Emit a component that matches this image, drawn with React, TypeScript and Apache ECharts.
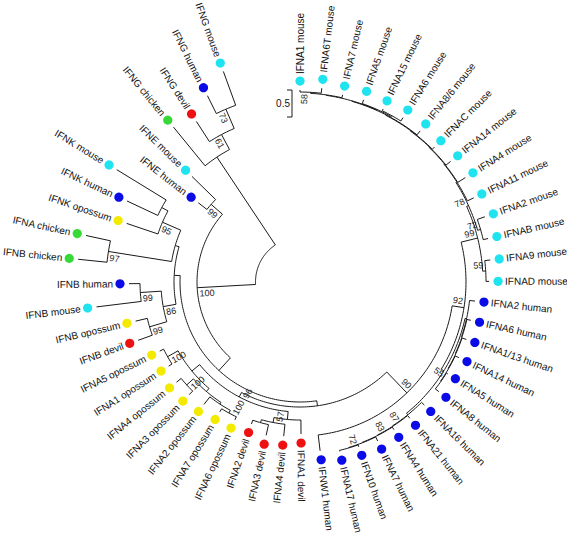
import React, { useEffect, useRef } from "react";
import * as echarts from "echarts";

// ---------------- data ----------------
// branch lengths in substitutions / site (scale bar = 0.5)
const rootEdge = 0.824;
const tipStartAngle = 270; // first tip (IFNA1 mouse) at the top
const tipSweepAngle = 340; // tips are spread clockwise over this sweep
const scaleBarValue = 0.5;
const scaleBarLabel = "0.5";

const speciesNames = ["mouse", "human", "devil", "opossum", "chicken"];
const speciesColors = ["#1FE3EF", "#0B0BE8", "#EE1111", "#F3EA00", "#36D936"];

// mouse IFNA clade
const mouseTop =
  "(((IFNA1 mouse:0.037,IFNA6T mouse:0.093)58:0.019,IFNA7 mouse:0.056):0.009,(IFNA5 mouse:0.074,(IFNA15 mouse:0.037,IFNA6 mouse:0.074):0.019):0.009):0.009";
const mouseComb1 = `((((((${mouseTop},IFNA8/6 mouse:0.093):0.009,IFNAC mouse:0.056):0.009,IFNA14 mouse:0.111):0.009,IFNA4 mouse:0.167):0.009,IFNA11 mouse:0.130):0.019`;
const mouseClade = `((${mouseComb1},(IFNA2 mouse:0.148,IFNAB mouse:0.093)72:0.056)78:0.037,(IFNA9 mouse:0.102,IFNAD mouse:0.056)59:0.056)99:0.315`;

// human IFNA clade
const humanA =
  "(IFNA2 human:0.102,(IFNA6 human:0.074,(IFNA1/13 human:0.083,(IFNA14 human:0.074,(IFNA5 human:0.028,IFNA8 human:0.083)55:0.009):0.009):0.009):0.009):0.028";
const humanB =
  "(IFNA16 human:0.074,(IFNA21 human:0.065,(IFNA4 human:0.056,(IFNA7 human:0.083,(IFN10 human:0.037,IFNA17 human:0.019)72:0.009):0.009)83:0.009)87:0.009):0.037";
const humanClade = `(${humanA},${humanB}):0.056`;
const omegaAlpha = `((${mouseClade},${humanClade})92:0.222,IFNW1 human:0.296)90:0.537`;

// marsupial IFNA clades
const devilClade =
  "(IFNA1 devil:0.259,(IFNA4 devil:0.222,(IFNA3 devil:0.204,IFNA2 devil:0.074):0.056)57:0.093):0.148";
const opossumClade =
  "((((IFNA6 opossum:0.065,IFNA7 opossum:0.065)100:0.056,IFNA2 opossum:0.176):0.037,(IFNA3 opossum:0.093,IFNA4 opossum:0.111)100:0.167):0.074,(IFNA1 opossum:0.074,IFNA5 opossum:0.080)100:0.222):0.185";
const marsupialClade = `(${devilClade},${opossumClade})96:0.093`;
const alphaClade = `(${omegaAlpha},${marsupialClade}):0.093`;

// IFNB, chicken, IFNK, IFNE, IFNG
const betaClade =
  "((IFNB devil:0.278,IFNB opossum:0.222)99:0.333,(IFNB mouse:0.833,IFNB human:0.204)99:0.389)86:0.241";
const chickenKappa =
  "((IFNB chicken:0.537,IFNA chicken:0.463)97:1.185,(IFNK opossum:0.611,(IFNK human:0.630,IFNK mouse:1.074):0.130)95:0.370):0.074";
const typeIClade = `(${alphaClade},(${betaClade},${chickenKappa}):0.111):0.315`;
const epsilonClade = "(IFNE human:0.204,IFNE mouse:0.611)99:0.278";
const gammaClade =
  "(IFNG chicken:0.926,(IFNG devil:0.444,(IFNG human:0.370,IFNG mouse:0.667)73:0.389)61:0.315):1.954";
const newick = `((${typeIClade},${epsilonClade})100:1.083,${gammaClade});`;

// ---------------- tree helpers ----------------
type TNode = {
  name: string;
  len: number;
  children: TNode[];
  parent: TNode | null;
  r: number;
  a: number;
};

function parseNewick(s: string): TNode {
  let i = 0;
  const node = (): TNode => {
    const n: TNode = { name: "", len: 0, children: [], parent: null, r: 0, a: 0 };
    if (s[i] === "(") {
      i++;
      n.children.push(node());
      while (s[i] === ",") {
        i++;
        n.children.push(node());
      }
      i++; // ')'
    }
    let name = "";
    while (i < s.length && !"(),:;".includes(s[i])) name += s[i++];
    n.name = name.trim();
    if (s[i] === ":") {
      i++;
      let num = "";
      while (i < s.length && !"(),;".includes(s[i])) num += s[i++];
      n.len = parseFloat(num);
    }
    return n;
  };
  return node();
}

function buildTree() {
  const root = parseNewick(newick);
  const nodes: TNode[] = [];
  const tips: TNode[] = [];
  const walk = (n: TNode, parent: TNode | null, r: number) => {
    n.parent = parent;
    n.r = r;
    nodes.push(n);
    n.children.forEach((c) => walk(c, n, r + c.len));
    if (!n.children.length) tips.push(n);
  };
  walk(root, null, rootEdge);
  const step = tipSweepAngle / (tips.length - 1);
  tips.forEach((t, k) => (t.a = tipStartAngle + k * step));
  const ang = (n: TNode) => {
    if (n.children.length) {
      n.children.forEach(ang);
      n.a = n.children.reduce((s, c) => s + c.a, 0) / n.children.length;
    }
  };
  ang(root);
  return nodes;
}

const FONT = "'Liberation Sans', Arial, Helvetica, sans-serif";

export default function App() {
  const ref = useRef<HTMLDivElement>(null);
  useEffect(() => {
    if (!ref.current) return;
    const chart = echarts.init(ref.current, null, { renderer: "svg" });
    const nodes = buildTree();
    const data = nodes.map((n, k) => [n.r, ((n.a % 360) + 360) % 360, k]);
    const lineStyle = { stroke: "#1a1a1a", lineWidth: 1, fill: "none" };

    const renderNode = (_params: any, api: any) => {
      const n = nodes[api.value(2) as number];
      const c = api.coord([0, 0]);
      const pt = (r: number, a: number) => api.coord([r, a]);
      const els: any[] = [];
      if (n.parent) {
        const p0 = pt(n.parent.r, n.a);
        const p1 = pt(n.r, n.a);
        els.push({
          type: "line",
          shape: { x1: p0[0], y1: p0[1], x2: p1[0], y2: p1[1] },
          style: lineStyle,
        });
      }
      if (n.children.length) {
        const a0 = n.children[0].a;
        const a1 = n.children[n.children.length - 1].a;
        const steps = Math.max(2, Math.ceil(Math.abs(a1 - a0)));
        const pts: number[][] = [];
        for (let k = 0; k <= steps; k++) pts.push(pt(n.r, a0 + ((a1 - a0) * k) / steps));
        els.push({ type: "polyline", shape: { points: pts }, style: lineStyle });
      }
      const p = pt(n.r, n.a);
      const dx = p[0] - c[0];
      const dy = p[1] - c[1];
      const len = Math.hypot(dx, dy) || 1;
      const ux = dx / len;
      const uy = dy / len;
      const ang = Math.atan2(uy, ux);
      const left = ux < -1e-6;
      const rot = left ? Math.PI - ang : -ang;
      if (!n.children.length) {
        const sp = n.name.split(" ").pop() as string;
        const col = speciesColors[speciesNames.indexOf(sp)];
        const dotGap = 9;
        const labelGap = 16;
        els.push({
          type: "circle",
          shape: { cx: p[0] + ux * dotGap, cy: p[1] + uy * dotGap, r: 4.6 },
          style: { fill: col },
        });
        els.push({
          type: "text",
          x: p[0] + ux * labelGap,
          y: p[1] + uy * labelGap,
          rotation: rot,
          style: {
            text: n.name,
            fontSize: 10,
            fontFamily: FONT,
            fill: "#111",
            align: left ? "right" : "left",
            verticalAlign: "middle",
          },
        });
      } else if (n.name) {
        const w = n.name.length * 5;
        const off = 2 + w / 2;
        const tx = -uy;
        const ty = ux;
        els.push({
          type: "text",
          x: p[0] - ux * off - tx * 6,
          y: p[1] - uy * off - ty * 6,
          rotation: rot,
          style: {
            text: n.name,
            fontSize: 9,
            fontFamily: FONT,
            fill: "#222",
            align: "center",
            verticalAlign: "middle",
          },
        });
      }
      return { type: "group", children: els };
    };

    const renderScale = (_params: any, api: any) => {
      const c = api.coord([0, 0]);
      const e = api.coord([scaleBarValue, 0]);
      const L = Math.hypot(e[0] - c[0], e[1] - c[1]);
      const x = 292;
      const y0 = 90;
      return {
        type: "group",
        children: [
          {
            type: "polyline",
            shape: { points: [[x - 5, y0], [x, y0], [x, y0 + L], [x - 5, y0 + L]] },
            style: lineStyle,
          },
          {
            type: "text",
            x: x - 2,
            y: y0 + L / 2,
            style: {
              text: scaleBarLabel,
              fontSize: 10,
              fontFamily: FONT,
              fill: "#111",
              align: "right",
              verticalAlign: "middle",
            },
          },
        ],
      };
    };

    chart.setOption({
      animation: false,
      polar: { center: [300, 282], radius: 270 },
      angleAxis: { type: "value", min: 0, max: 360, startAngle: 0, clockwise: true, show: false },
      radiusAxis: { type: "value", min: 0, max: 5, show: false },
      series: [
        {
          type: "custom",
          coordinateSystem: "polar",
          data,
          renderItem: renderNode,
          silent: true,
          clip: false,
        },
        {
          type: "custom",
          coordinateSystem: "polar",
          data: [[0, 0]],
          renderItem: renderScale,
          silent: true,
          clip: false,
        },
      ],
    });
    return () => chart.dispose();
  }, []);
  return (
    <div
      ref={ref}
      style={{ position: "fixed", left: 0, top: 0, width: 567, height: 533, background: "#fff" }}
    />
  );
}
